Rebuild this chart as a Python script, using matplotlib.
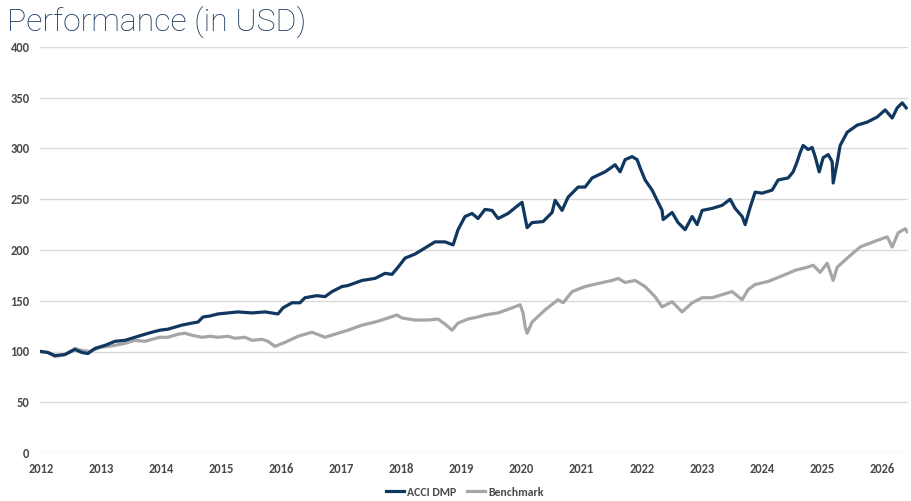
import matplotlib
matplotlib.use("Agg")
import matplotlib.pyplot as plt
from matplotlib import font_manager

# ---- data ----
acci_years = [0.00, 0.117, 0.233, 0.40, 0.566, 0.683, 0.782, 0.899, 1.065, 1.232, 1.398, 1.565,
              1.731, 1.848, 1.981, 2.114, 2.231, 2.347, 2.514, 2.614, 2.697, 2.813, 2.947, 3.113,
              3.280, 3.513, 3.729, 3.945, 4.029, 4.178, 4.312, 4.395, 4.595, 4.728, 4.844, 5.011,
              5.111, 5.344, 5.560, 5.727, 5.843, 5.943, 6.060, 6.226, 6.393, 6.559, 6.725, 6.859,
              6.942, 7.058, 7.175, 7.275, 7.391, 7.508, 7.608, 7.774, 7.941, 8.007, 8.041, 8.091,
              8.174, 8.357, 8.507, 8.557, 8.673, 8.773, 8.940, 9.056, 9.173, 9.389, 9.556, 9.639,
              9.722, 9.839, 9.922, 9.972, 10.055, 10.172, 10.271, 10.338, 10.355, 10.504, 10.604,
              10.721, 10.838, 10.921, 11.004, 11.171, 11.337, 11.470, 11.553, 11.670, 11.720,
              11.803, 11.886, 12.003, 12.169, 12.269, 12.436, 12.519, 12.585, 12.635, 12.685,
              12.768, 12.835, 12.885, 12.952, 13.018, 13.102, 13.168, 13.185, 13.251, 13.301,
              13.418, 13.584, 13.751, 13.917, 14.050, 14.167, 14.250, 14.334, 14.400]
acci_values = [100, 99, 96, 97, 102, 99, 98, 103, 106, 110, 111, 114,
               117, 119, 121, 122, 124, 126, 128, 129, 134, 135, 137, 138,
               139, 138, 139, 137, 143, 148, 148, 153, 155, 154, 159, 164,
               165, 170, 172, 177, 176, 183, 192, 196, 202, 208, 208, 205,
               220, 233, 236, 231, 240, 239, 231, 236, 244, 247, 237, 222,
               227, 228, 237, 249, 239, 252, 262, 262, 271, 277, 284, 277,
               289, 292, 289, 281, 269, 259, 247, 239, 230, 237, 227,
               220, 233, 225, 239, 241, 244, 250, 241, 233, 225,
               242, 257, 256, 259, 269, 271, 277, 287, 296, 303,
               299, 301, 292, 277, 291, 294, 287, 266, 286, 303,
               316, 323, 326, 331, 338, 330, 340, 345, 340]

bench_years = [0.00, 0.117, 0.233, 0.40, 0.566, 0.683, 0.816, 0.982, 1.232, 1.398, 1.565, 1.731,
               1.848, 1.981, 2.114, 2.281, 2.397, 2.514, 2.680, 2.813, 2.947, 3.113, 3.230, 3.396,
               3.513, 3.679, 3.779, 3.895, 4.062, 4.278, 4.511, 4.728, 4.944, 5.111, 5.344, 5.560,
               5.777, 5.926, 6.010, 6.226, 6.442, 6.609, 6.725, 6.842, 6.942, 7.108, 7.275, 7.391,
               7.608, 7.841, 7.974, 8.024, 8.057, 8.091, 8.174, 8.390, 8.607, 8.690, 8.840, 9.056,
               9.273, 9.506, 9.606, 9.722, 9.889, 10.055, 10.221, 10.338, 10.504, 10.671, 10.838,
               11.004, 11.171, 11.337, 11.504, 11.670, 11.770, 11.886, 12.103, 12.269, 12.436,
               12.552, 12.752, 12.852, 12.968, 13.085, 13.185, 13.251, 13.418, 13.634, 13.851,
               14.083, 14.167, 14.267, 14.384, 14.416]
bench_values = [100, 99, 95, 97, 103, 101, 100, 104, 106, 108, 111, 110,
                112, 114, 114, 117, 118, 116, 114, 115, 114, 115, 113, 114,
                111, 112, 110, 105, 109, 115, 119, 114, 118, 121, 126, 129,
                133, 136, 133, 131, 131, 132, 127, 121, 128, 132, 134, 136,
                138, 143, 146, 138, 125, 118, 129, 141, 151, 148, 159, 164,
                167, 170, 172, 168, 170, 164, 154, 144, 149, 139, 148,
                153, 153, 156, 159, 151, 161, 166, 169, 173, 177,
                180, 183, 185, 178, 187, 170, 183, 192, 203, 208,
                213, 203, 217, 221, 218]

base_year = 2012
year_ticks = list(range(2012, 2027))
y_ticks = list(range(0, 401, 50))
series_names = ["ACCI DMP", "Benchmark"]

acci_x = [base_year + v for v in acci_years]
bench_x = [base_year + v for v in bench_years]

# ---- style ----
navy = "#0f3760"
grey = "#a6a6a6"
label_col = "#4a4a4a"

avail = {f.name for f in font_manager.fontManager.ttflist}
tick_family = "Liberation Sans"
tick_size = 8
for cand, sz in [("Carlito", 9), ("Roboto Condensed", 8.5), ("Liberation Sans Narrow", 8.5),
                 ("Liberation Sans", 8)]:
    if cand in avail:
        tick_family, tick_size = cand, sz
        break

fig = plt.figure(figsize=(9.12, 5.01), dpi=100)
ax = fig.add_axes([40 / 912, 48 / 501, (908 - 40) / 912, (454 - 48) / 501])

ax.plot(bench_x, bench_values, color=grey, lw=2.3, label=series_names[1], zorder=3)
ax.plot(acci_x, acci_values, color=navy, lw=2.3, label=series_names[0], zorder=4)

ax.set_xlim(2011.985, 2026.43)
ax.set_ylim(0, 400)
ax.set_yticks(y_ticks)
ax.set_xticks(year_ticks)
ax.set_xticklabels([str(y) for y in year_ticks])
ax.grid(axis="y", color="#d9d9d9", lw=1.0, zorder=0)
ax.grid(axis="x", visible=False)
for s in ax.spines.values():
    s.set_visible(False)
ax.tick_params(axis="both", length=0, labelsize=tick_size, labelcolor=label_col)
ax.tick_params(axis="y", pad=7.5)
ax.tick_params(axis="x", pad=7)
for lab in ax.get_xticklabels() + ax.get_yticklabels():
    lab.set_fontfamily(tick_family)
    lab.set_fontweight("bold")

h, l = ax.get_legend_handles_labels()
order = [l.index(series_names[0]), l.index(series_names[1])]
leg = fig.legend([h[i] for i in order], [l[i] for i in order], loc="center",
                 bbox_to_anchor=(465 / 912, 1 - 492 / 501), ncol=2, frameon=False,
                 handlelength=1.5, handletextpad=0.3, columnspacing=0.9,
                 prop={"family": tick_family, "weight": "bold", "size": tick_size - 0.5})
for t in leg.get_texts():
    t.set_color(label_col)

fig.text(7 / 912, 1 - 22 / 501, "Performance (in USD)", fontsize=23,
         family="Roboto", fontweight="light", color="#17375e", va="center", ha="left")

fig.savefig("out.png", dpi=100)
